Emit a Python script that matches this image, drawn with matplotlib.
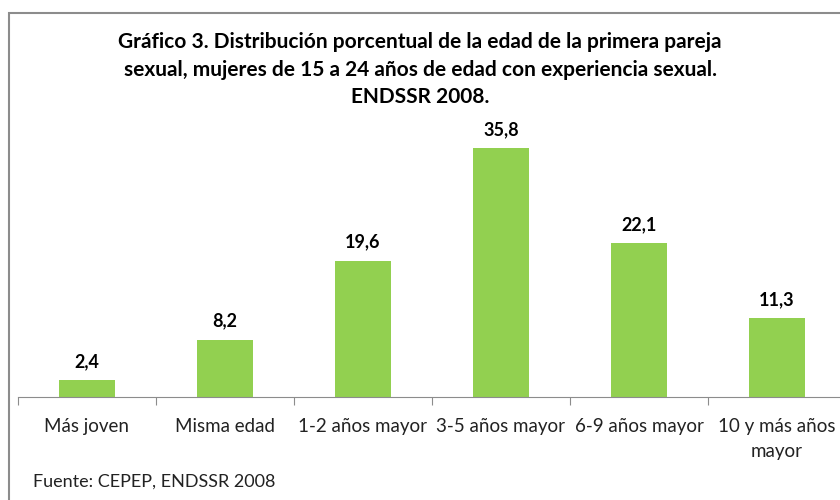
import numpy as np
import matplotlib.pyplot as plt
from matplotlib.patches import Rectangle

plt.rcParams['font.family'] = ['Lato', 'DejaVu Sans']

categorias = ["Más joven", "Misma edad", "1-2 años mayor", "3-5 años mayor",
              "6-9 años mayor", "10 y más años\nmayor"]
valores = [2.4, 8.2, 19.6, 35.8, 22.1, 11.3]

fig = plt.figure(figsize=(8.4, 5), dpi=100)
ax = fig.add_axes([18 / 840, 103 / 500, 828 / 840, 278 / 500])

x = np.arange(len(categorias))
ax.bar(x, valores, width=0.4, color='#92D050')

for xi, v in zip(x, valores):
    ax.text(xi, v + 1.5, f"{v:.1f}".replace('.', ','), ha='center', va='bottom',
            fontsize=13, fontweight='bold')

ax.set_xlim(-0.5, len(categorias) - 0.5)
ax.set_ylim(0, 40)
ax.set_yticks([])
for s in ['top', 'right', 'left']:
    ax.spines[s].set_visible(False)
ax.spines['bottom'].set_color('#8c8c8c')

ax.set_xticks(np.arange(-0.5, len(categorias), 1.0))
ax.set_xticklabels([])
ax.set_xticks(x, minor=True)
ax.set_xticklabels(categorias, minor=True, fontsize=13.5, color='#222222', linespacing=1.6)
ax.tick_params(axis='x', which='major', length=6, color='#8c8c8c', direction='out')
ax.tick_params(axis='x', which='minor', length=0, pad=15)

fig.text(0.5, 0.935, "Gráfico 3. Distribución porcentual de la edad de la primera pareja\n"
         "sexual, mujeres de 15 a 24 años de edad con experiencia sexual.\nENDSSR 2008.",
         ha='center', va='top', fontsize=15, fontweight='bold', linespacing=1.45)

fig.text(33 / 840, 1 - 482 / 500, "Fuente: CEPEP, ENDSSR 2008", ha='left', va='center',
         fontsize=13, color='#222222')

fig.add_artist(Rectangle((9 / 840, -0.1), 1.2, 1 - 13 / 500 + 0.1, transform=fig.transFigure,
                         fill=False, edgecolor='#8c8c8c', linewidth=1.5))

fig.savefig('out.png', dpi=100, facecolor='white')
